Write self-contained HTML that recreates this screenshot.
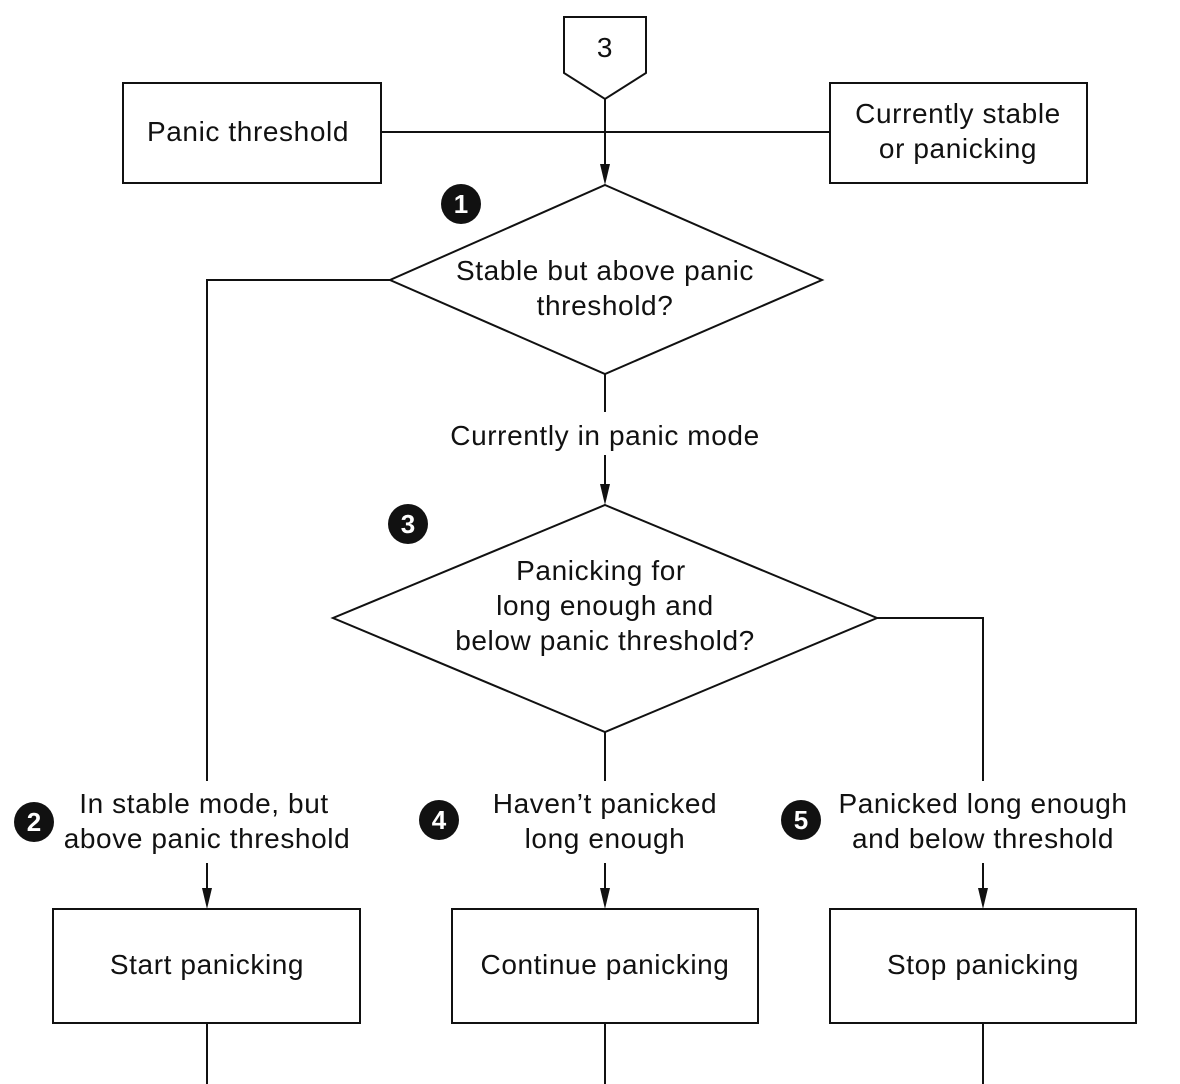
<!DOCTYPE html>
<html><head><meta charset="utf-8"><style>
html,body{margin:0;padding:0;background:#fff;}
svg{display:block;}
text{font-family:"Liberation Sans",sans-serif;font-size:28px;letter-spacing:0.6px;fill:#111;text-anchor:middle;}
.n{font-size:26px;fill:#fff;font-weight:bold;letter-spacing:0;}
</style></head><body>
<svg width="1180" height="1084" viewBox="0 0 1180 1084" xmlns="http://www.w3.org/2000/svg">
<g stroke="#111" stroke-width="2" fill="none">
<polygon points="564,17 646,17 646,73 605,99 564,73" fill="#fff"/>
<line x1="605" y1="99" x2="605" y2="165"/>
<rect x="123" y="83" width="258" height="100"/>
<rect x="830" y="83" width="257" height="100"/>
<line x1="381" y1="132" x2="830" y2="132"/>
<polygon points="605,185 822,280 605,374 390,280"/>
<polyline points="390,280 207,280 207,781"/>
<line x1="605" y1="374" x2="605" y2="412"/>
<line x1="605" y1="455" x2="605" y2="485"/>
<polygon points="605,505 877,618 605,732 333,618"/>
<polyline points="877,618 983,618 983,781"/>
<line x1="605" y1="732" x2="605" y2="781"/>
<line x1="207" y1="863" x2="207" y2="890"/>
<line x1="605" y1="863" x2="605" y2="890"/>
<line x1="983" y1="863" x2="983" y2="890"/>
<rect x="53" y="909" width="307" height="114"/>
<rect x="452" y="909" width="306" height="114"/>
<rect x="830" y="909" width="306" height="114"/>
<line x1="207" y1="1023" x2="207" y2="1084"/>
<line x1="605" y1="1023" x2="605" y2="1084"/>
<line x1="983" y1="1023" x2="983" y2="1084"/>
</g>
<g fill="#111">
<polygon points="600,164 610,164 605,185"/>
<polygon points="600,484 610,484 605,505"/>
<polygon points="202,888 212,888 207,909"/>
<polygon points="600,888 610,888 605,909"/>
<polygon points="978,888 988,888 983,909"/>
<circle cx="461" cy="204" r="20"/>
<circle cx="408" cy="524" r="20"/>
<circle cx="34" cy="822" r="20"/>
<circle cx="439" cy="820" r="20"/>
<circle cx="801" cy="820" r="20"/>
</g>
<text class="n" x="461" y="213">1</text>
<text class="n" x="408" y="533">3</text>
<text class="n" x="34" y="831">2</text>
<text class="n" x="439" y="829">4</text>
<text class="n" x="801" y="829">5</text>
<text x="605" y="57">3</text>
<text x="248" y="141">Panic threshold</text>
<text x="958" y="123">Currently stable</text>
<text x="958" y="158">or panicking</text>
<text x="605" y="280">Stable but above panic</text>
<text x="605" y="315">threshold?</text>
<text x="605" y="445">Currently in panic mode</text>
<text x="601" y="580">Panicking for</text>
<text x="605" y="615">long enough and</text>
<text x="605" y="650">below panic threshold?</text>
<text x="204" y="813">In stable mode, but</text>
<text x="207" y="848">above panic threshold</text>
<text x="605" y="813">Haven’t panicked</text>
<text x="605" y="848">long enough</text>
<text x="983" y="813">Panicked long enough</text>
<text x="983" y="848">and below threshold</text>
<text x="207" y="974">Start panicking</text>
<text x="605" y="974">Continue panicking</text>
<text x="983" y="974">Stop panicking</text>
</svg>
</body></html>
